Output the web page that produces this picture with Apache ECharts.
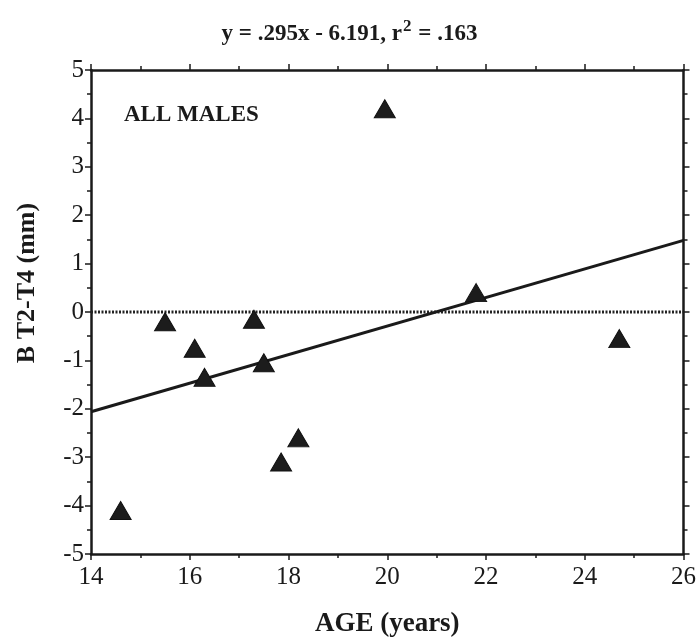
<!DOCTYPE html>
<html>
<head>
<meta charset="utf-8">
<script src="https://cdn.jsdelivr.net/npm/echarts@6/dist/echarts.min.js"></script>
<style>
  html, body { margin: 0; padding: 0; background: #fff; }
  #chart { width: 699px; height: 643px; }
</style>
</head>
<body>
<div id="chart"></div>
<script>
// values
var ageX = [14.6, 15.5, 16.1, 16.3, 17.3, 17.5, 17.85, 18.2, 19.95, 21.8, 24.7];
var bT2T4 = [-4.1, -0.2, -0.75, -1.35, -0.15, -1.05, -3.1, -2.6, 4.2, 0.4, -0.55];
var fitX = [14, 26];
var fitY = [-2.061, 1.479];
var zeroX = [14, 26];
var zeroY = [0, 0];

var serif = "'Liberation Serif', 'DejaVu Serif', serif";
var ink = '#1a1a1a';

function pairs(xs, ys) {
  var out = [];
  for (var i = 0; i < xs.length; i++) out.push([xs[i], ys[i]]);
  return out;
}

var chart = echarts.init(document.getElementById('chart'));

var axisBase = {
  axisLine: { show: true, onZero: false, lineStyle: { color: ink, width: 2.5 } },
  axisTick: { show: true, inside: false, length: 6, lineStyle: { color: ink, width: 1.5 } },
  minorTick: { show: true, splitNumber: 2, length: 4, lineStyle: { color: ink, width: 1.5 } },
  splitLine: { show: false }
};

var option = {
  backgroundColor: '#ffffff',
  animation: false,
  title: [
    {
      text: '{a|y = .295x - 6.191, r}{s|2}{a| = .163}',
      left: 'center',
      top: 13,
      textStyle: {
        rich: {
          a: { fontFamily: serif, fontWeight: 'bold', fontSize: 23, color: ink, verticalAlign: 'bottom', lineHeight: 28 },
          s: { fontFamily: serif, fontWeight: 'bold', fontSize: 17, color: ink, verticalAlign: 'top', lineHeight: 20, padding: [0, 1, 6, 1] }
        }
      }
    },
    {
      text: 'ALL MALES',
      left: 119,
      top: 99,
      textStyle: { fontFamily: serif, fontWeight: 'bold', fontSize: 23, color: ink }
    }
  ],
  graphic: [
    {
      type: 'text',
      x: 27,
      y: 283,
      rotation: Math.PI / 2,
      style: {
        text: 'B T2-T4 (mm)',
        font: 'bold 26px ' + serif,
        fill: ink,
        textAlign: 'center',
        textVerticalAlign: 'middle'
      }
    }
  ],
  grid: { left: 91, right: 15, top: 70, bottom: 87, containLabel: false },
  xAxis: [
    Object.assign({}, axisBase, {
      type: 'value', min: 14, max: 26, interval: 2, position: 'bottom',
      name: 'AGE (years)', nameLocation: 'middle', nameGap: 57,
      nameTextStyle: { fontFamily: serif, fontWeight: 'bold', fontSize: 27, color: ink },
      axisLabel: { fontFamily: serif, fontSize: 25, color: ink, margin: 11 }
    }),
    Object.assign({}, axisBase, {
      type: 'value', min: 14, max: 26, interval: 2, position: 'top',
      axisLabel: { show: false }
    })
  ],
  yAxis: [
    Object.assign({}, axisBase, {
      type: 'value', min: -5, max: 5, interval: 1, position: 'left',
      axisLabel: { fontFamily: serif, fontSize: 25, color: ink, margin: 7 }
    }),
    Object.assign({}, axisBase, {
      type: 'value', min: -5, max: 5, interval: 1, position: 'right',
      axisLabel: { show: false }
    })
  ],
  series: [
    {
      type: 'line',
      data: pairs(zeroX, zeroY),
      symbol: 'none',
      lineStyle: { color: '#222', width: 3, type: [2, 1.5] },
      z: 1
    },
    {
      type: 'line',
      data: pairs(fitX, fitY),
      symbol: 'none',
      lineStyle: { color: ink, width: 3 },
      z: 2
    },
    {
      type: 'scatter',
      data: pairs(ageX, bT2T4),
      symbol: 'triangle',
      symbolSize: [21, 18],
      itemStyle: { color: '#1c1c1c', borderColor: '#111', borderWidth: 1, opacity: 1 },
      z: 3
    }
  ]
};

chart.setOption(option);
</script>
</body>
</html>
